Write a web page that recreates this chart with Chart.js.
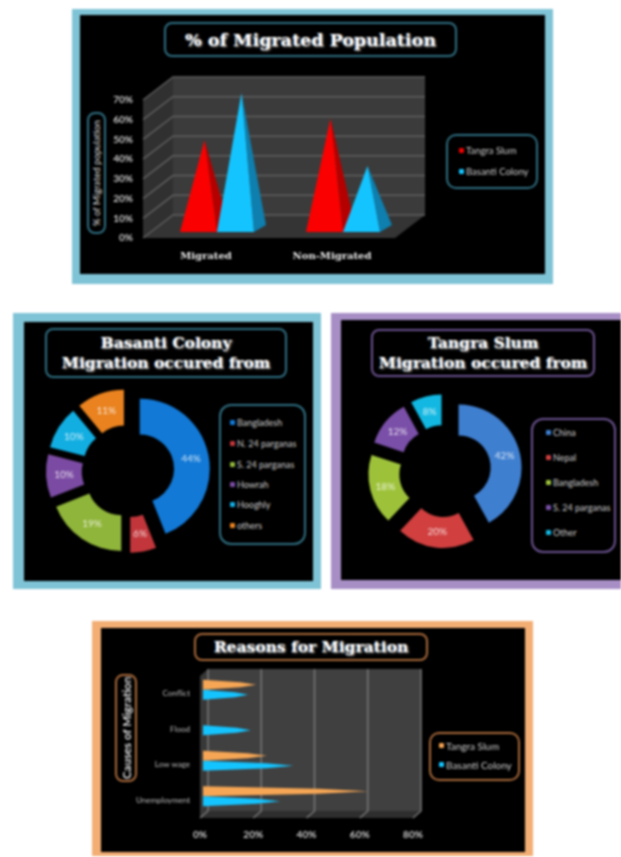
<!DOCTYPE html>
<html lang="en">
<head>
<meta charset="UTF-8">
<title>Migration charts</title>
<script src="https://cdn.jsdelivr.net/npm/chart.js"></script>
<style>
    html, body { margin: 0; padding: 0; background: #fff; overflow: hidden; }
    #page { position: relative; width: 621px; height: 857px; overflow: hidden; filter: blur(0.9px); }
    .frame, .black, .box, canvas, .item { position: absolute; box-sizing: border-box; }
    .black { background: #000; }
    .box { border: 2px solid; border-radius: 8px; background: #000; }
    .title {
        display: flex; align-items: center; justify-content: center; text-align: center;
        font: bold 15.5px/20px "DejaVu Serif", serif; color: #fff;
        text-shadow: 1px 1px 2px #999;
    }
    .side {
        display: flex; align-items: center; justify-content: center; color: #ddd;
        writing-mode: vertical-rl; transform: rotate(180deg); font-family: Lato, sans-serif;
        white-space: nowrap;
    }
    .item { font: 9px/10px Lato, sans-serif; color: #ccc; white-space: nowrap; }
    .mark { position: absolute; left: -7px; top: 2px; width: 5px; height: 5px; border-radius: 1px; }
</style>
</head>
<body>
<div id="page"></div>
<script>
    // Dados
    const popCategories = ['Migrated', 'Non-Migrated'];
    const popTangra = [44, 55];
    const popBasanti = [68, 31];

    const basantiPlaces = ['Bangladesh', 'N. 24 parganas', 'S. 24 parganas', 'Howrah', 'Hooghly', 'others'];
    const basantiShare = [44, 6, 19, 10, 10, 11];
    const basantiColors = ['#1279d6', '#c2363b', '#8fb53a', '#7b4ba3', '#12aee2', '#e9821f'];

    const tangraPlaces = ['China', 'Nepal', 'Bangladesh', 'S. 24 parganas', 'Other'];
    const tangraShare = [42, 20, 18, 12, 8];
    const tangraColors = ['#3f7fd0', '#d13f3f', '#9dc23a', '#7a4fa8', '#12b8e2'];

    const reasonCategories = ['Conflict', 'Flood', 'Low wage', 'Unemployment'];
    const reasonTangra = [20, 0, 24, 62];
    const reasonBasanti = [17, 18, 34, 29];

    const seriesNames = ['Tangra Slum', 'Basanti Colony'];
    const page = document.getElementById('page');

    function addDiv(cls, x, y, w, h, css, html) {
        const d = document.createElement('div');
        d.className = cls;
        d.style.cssText = `position:absolute;left:${x}px;top:${y}px;width:${w}px;height:${h}px;` + (css || '');
        if (html) d.innerHTML = html;
        page.appendChild(d);
        return d;
    }

    function addCanvas(x, y, w, h) {
        const c = document.createElement('canvas');
        c.width = w;
        c.height = h;
        c.style.left = x + 'px';
        c.style.top = y + 'px';
        page.appendChild(c);
        return c;
    }

    function addLegend(names, colors, x, ys, font) {
        names.forEach((n, i) => {
            addDiv('item', x, ys[i] - 5, 90, 10, font || '',
                `<span class="mark" style="background:${colors[i]}"></span>${n}`);
        });
    }

    function poly(ctx, color, pts) {
        ctx.fillStyle = color;
        ctx.beginPath();
        pts.forEach((p, i) => i ? ctx.lineTo(p[0], p[1]) : ctx.moveTo(p[0], p[1]));
        ctx.closePath();
        ctx.fill();
    }

    // Paredes 3D atras das barras
    function wallsPlugin(dx, dy, gridAxis, wall, side, floor, line) {
        return {
            id: 'walls',
            beforeDatasetsDraw(chart) {
                const ctx = chart.ctx;
                const a = chart.chartArea;
                poly(ctx, wall, [[a.left + dx, a.top + dy], [a.right + dx, a.top + dy], [a.right + dx, a.bottom + dy], [a.left + dx, a.bottom + dy]]);
                poly(ctx, side, [[a.left, a.top], [a.left + dx, a.top + dy], [a.left + dx, a.bottom + dy], [a.left, a.bottom]]);
                poly(ctx, floor, [[a.left, a.bottom], [a.left + dx, a.bottom + dy], [a.right + dx, a.bottom + dy], [a.right, a.bottom]]);
                ctx.strokeStyle = line;
                ctx.lineWidth = 1.5;
                chart.scales[gridAxis].ticks.forEach((t, i) => {
                    const p = chart.scales[gridAxis].getPixelForTick(i);
                    ctx.beginPath();
                    if (gridAxis === 'y') {
                        ctx.moveTo(a.left, p);
                        ctx.lineTo(a.left + dx, p + dy);
                        ctx.lineTo(a.right + dx, p + dy);
                    } else {
                        ctx.moveTo(p, a.bottom);
                        ctx.lineTo(p + dx, a.bottom + dy);
                        ctx.lineTo(p + dx, a.top + dy);
                    }
                    ctx.stroke();
                });
            }
        };
    }

    // Piramides verticais a partir das barras do Chart.js
    const pyramidPlugin = {
        id: 'pyramids',
        afterDatasetsDraw(chart) {
            chart.data.datasets.forEach((ds, n) => {
                chart.getDatasetMeta(n).data.forEach(bar => {
                    const l = bar.x - bar.width / 2 + 11;
                    const r = bar.x + bar.width / 2 + 11;
                    const by = bar.base - 6;
                    const tip = [bar.x + 17, bar.y - 11];
                    poly(chart.ctx, ds.sideColor, [[r, by], [r + 12, by - 7], tip]);
                    poly(chart.ctx, ds.faceColor, [[l, by], [r, by], tip]);
                });
            });
        }
    };

    // Cones horizontais, grossos ate perto da ponta
    const conePlugin = {
        id: 'cones',
        afterDatasetsDraw(chart) {
            chart.data.datasets.forEach((ds, n) => {
                chart.getDatasetMeta(n).data.forEach((bar, i) => {
                    if (!ds.data[i]) return;
                    const x0 = bar.base + 3;
                    const y = bar.y - 4;
                    const h = bar.height / 2;
                    const xm = x0 + (bar.x + 3 - x0) * 0.7;
                    poly(chart.ctx, ds.faceColor, [[x0, y - h], [xm, y - h * 0.5], [bar.x + 3, y], [xm, y + h * 0.5], [x0, y + h]]);
                });
            });
        }
    };

    // Fatias separadas da rosca
    function slicesPlugin(explode, colors) {
        return {
            id: 'slices',
            afterDatasetsDraw(chart) {
                const ctx = chart.ctx;
                const values = chart.data.datasets[0].data;
                chart.getDatasetMeta(0).data.forEach((arc, i) => {
                    const mid = (arc.startAngle + arc.endAngle) / 2;
                    const cx = arc.x + Math.cos(mid) * explode;
                    const cy = arc.y + Math.sin(mid) * explode;
                    ctx.fillStyle = colors[i];
                    ctx.beginPath();
                    ctx.arc(cx, cy, arc.outerRadius, arc.startAngle, arc.endAngle);
                    ctx.arc(cx, cy, arc.innerRadius, arc.endAngle, arc.startAngle, true);
                    ctx.closePath();
                    ctx.fill();
                    const lr = (arc.outerRadius + arc.innerRadius) / 2;
                    ctx.fillStyle = 'rgba(255,255,255,0.8)';
                    ctx.font = '10px Lato, sans-serif';
                    ctx.textAlign = 'center';
                    ctx.textBaseline = 'middle';
                    ctx.fillText(values[i] + '%', cx + Math.cos(mid) * lr, cy + Math.sin(mid) * lr);
                });
            }
        };
    }

    function quietPlugins() {
        return { legend: { display: false }, tooltip: { enabled: false }, title: { display: false } };
    }

    function doughnut(canvas, labels, values, radius, cutout, padding, plugin) {
        new Chart(canvas, {
            type: 'doughnut',
            data: { labels: labels, datasets: [{ data: values, backgroundColor: 'rgba(0,0,0,0)', borderWidth: 0 }] },
            options: {
                responsive: false, animation: false, radius: radius, cutout: cutout,
                layout: { padding: padding },
                plugins: quietPlugins()
            },
            plugins: [plugin]
        });
    }

    // Painel 1 - % of Migrated Population
    addDiv('frame', 72, 9, 481, 275, 'background:#7fc3d6');
    addDiv('black', 80, 15, 465, 259);
    addDiv('box title', 164, 22, 293, 35, 'border-color:#2f6f82;font-size:17.5px', '% of Migrated Population');
    addDiv('box side', 87, 112, 19, 122, 'border-color:#2f6f82;font-size:9.5px', '% of Migrated population');
    addDiv('box', 446, 134, 92, 55, 'border-color:#2f6f82;border-radius:10px');
    addLegend(seriesNames, ['#f00000', '#14c4ff'], 466, [151, 172], 'font-size:9.5px');

    new Chart(addCanvas(80, 15, 465, 259), {
        type: 'bar',
        data: {
            labels: popCategories,
            datasets: [
                { label: seriesNames[0], data: popTangra, backgroundColor: 'rgba(0,0,0,0)', faceColor: '#fb0000', sideColor: '#b50000' },
                { label: seriesNames[1], data: popBasanti, backgroundColor: 'rgba(0,0,0,0)', faceColor: '#14c4ff', sideColor: '#0e7fae' }
            ]
        },
        options: {
            responsive: false, animation: false,
            layout: { padding: { left: 13, right: 150, top: 85, bottom: 0 } },
            datasets: { bar: { categoryPercentage: 0.587, barPercentage: 1 } },
            scales: {
                x: {
                    grid: { display: false }, border: { display: false },
                    afterFit(s) { s.height = 36; },
                    ticks: { color: '#eee', padding: 4, font: { family: 'DejaVu Serif', size: 10, weight: 'bold' } }
                },
                y: {
                    min: 0, max: 70,
                    grid: { display: false }, border: { display: false },
                    afterFit(s) { s.width = 50; },
                    ticks: { stepSize: 10, color: '#ccc', padding: 2, font: { family: 'Lato', size: 10, weight: 'bold' }, callback: v => v + '%' }
                }
            },
            plugins: quietPlugins()
        },
        plugins: [wallsPlugin(30, -23, 'y', '#3b3b3b', '#303030', '#343434', '#5f5f5f'), pyramidPlugin]
    });

    // Painel 2 - Basanti Colony
    addDiv('frame', 13, 313, 308, 276, 'background:#7fc3d6');
    addDiv('black', 24, 322, 289, 259);
    addDiv('box title', 45, 328, 242, 50, 'border-color:#2f6f82', 'Basanti Colony<br>Migration occured from');
    addDiv('box', 219, 404, 87, 141, 'border-color:#2f6f82;border-radius:12px');
    addLegend(basantiPlaces, basantiColors, 237, [423, 444, 465, 485, 505, 526]);
    doughnut(addCanvas(24, 322, 289, 259), basantiPlaces, basantiShare, 70, '49%',
        { left: 0, right: 81, top: 39, bottom: 0 }, slicesPlugin(12, basantiColors));

    // Painel 3 - Tangra Slum
    addDiv('frame', 331, 313, 300, 276, 'background:#a78fc6');
    addDiv('black', 341, 320, 290, 260);
    addDiv('box title', 371, 329, 224, 48, 'border-color:#6b5290', 'Tangra Slum<br>Migration occured from');
    addDiv('box', 531, 418, 85, 135, 'border-color:#6b5290;border-radius:12px');
    addLegend(tangraPlaces, tangraColors, 553, [433, 458, 483, 508, 533]);
    doughnut(addCanvas(341, 320, 280, 260), tangraPlaces, tangraShare, 63, '51%',
        { left: 0, right: 72, top: 42, bottom: 0 }, slicesPlugin(14, tangraColors));

    // Painel 4 - Reasons for Migration
    addDiv('frame', 92, 621, 441, 235, 'background:#f3ae74');
    addDiv('black', 101, 628, 424, 224);
    addDiv('box title', 194, 633, 234, 28, 'border-color:#a8683a;font-size:15.5px', 'Reasons for Migration');
    addDiv('box side', 115, 674, 22, 108, 'border-color:#a8683a;font-size:11.5px;font-weight:bold', 'Causes of Migration');
    addDiv('box', 429, 732, 91, 49, 'border-color:#a8683a;border-radius:10px');
    addLegend(seriesNames, ['#f4a24f', '#14c4ff'], 446, [746, 765], 'font-size:10px');

    new Chart(addCanvas(101, 628, 424, 224), {
        type: 'bar',
        data: {
            labels: reasonCategories,
            datasets: [
                { label: seriesNames[0], data: reasonTangra, backgroundColor: 'rgba(0,0,0,0)', faceColor: '#f6a654' },
                { label: seriesNames[1], data: reasonBasanti, backgroundColor: 'rgba(0,0,0,0)', faceColor: '#14c4ff' }
            ]
        },
        options: {
            indexAxis: 'y',
            responsive: false, animation: false,
            layout: { padding: { left: 9, right: 112, top: 48, bottom: 0 } },
            datasets: { bar: { categoryPercentage: 0.57, barPercentage: 1 } },
            scales: {
                x: {
                    min: 0, max: 80,
                    grid: { display: false }, border: { display: false },
                    afterFit(s) { s.height = 34; },
                    ticks: { stepSize: 20, color: '#ccc', padding: 3, font: { family: 'Lato', size: 10, weight: 'bold' }, callback: v => v + '%' }
                },
                y: {
                    grid: { display: false }, border: { display: false },
                    afterFit(s) { s.width = 90; },
                    ticks: { color: '#bbb', padding: 2, font: { family: 'Lato', size: 8 } }
                }
            },
            plugins: quietPlugins()
        },
        plugins: [wallsPlugin(8, -7, 'x', '#404040', '#383838', '#2e2e2e', '#777'), conePlugin]
    });
</script>
</body>
</html>
